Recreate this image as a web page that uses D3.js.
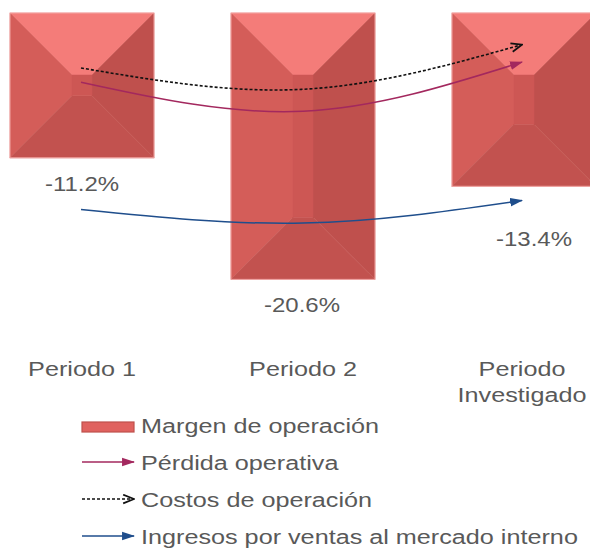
<!DOCTYPE html>
<html>
<head>
<meta charset="utf-8">
<script src="https://cdn.jsdelivr.net/npm/d3@7"></script>
<style>
  body { margin: 0; background: #fff; }
  text { font-family: "Liberation Sans", Arial, sans-serif; fill: #595959; }
</style>
</head>
<body>
<div id="chart"></div>
<script>
width = 590
height = 550

// data
let categories = ["Periodo 1", "Periodo 2", "Periodo Investigado"]
let categoryLines = [["Periodo 1"], ["Periodo 2"], ["Periodo", "Investigado"]]
let margen = [-11.2, -20.6, -13.4]
let labels = ["-11.2%", "-20.6%", "-13.4%"]
// trend arrows, drawn on the same value scale
let costosArrow = [-4.25, -5.9, -2.45]
let perdidaArrow = [-5.35, -7.6, -3.8]
let ingresosArrow = [-15.2, -16.25, -14.5]
let legendNames = ["Margen de operación", "Pérdida operativa", "Costos de operación", "Ingresos por ventas al mercado interno"]

let stretch = 1.2   // the original text is a bit wide
let barWidth = 144
let bevel = 62

let svg = d3.select("#chart")
    .append("svg")
    .attr("width", width)
    .attr("height", height)

let x = d3.scalePoint()
    .domain(categories)
    .range([82, 524])

let y = d3.scaleLinear()
    .domain([0, -22])
    .range([13, 13 + 22 * 12.93])

let defs = svg.append("defs")

function marker(id, color, open) {
    let m = defs.append("marker")
        .attr("id", id)
        .attr("viewBox", "0 0 12 10")
        .attr("refX", 11)
        .attr("refY", 5)
        .attr("markerUnits", "userSpaceOnUse")
        .attr("markerWidth", 13)
        .attr("markerHeight", 11)
        .attr("orient", "auto")
    if (open) {
        m.append("path")
            .attr("d", "M1,1 L11,5 L1,9")
            .attr("fill", "none")
            .attr("stroke", color)
            .attr("stroke-width", 1.6)
    } else {
        m.append("path")
            .attr("d", "M0,1 L12,5 L0,9 Z")
            .attr("fill", color)
    }
}
marker("arrowBlack", "#111", true)
marker("arrowRed", "#A3285E", false)
marker("arrowBlue", "#1F4E8C", false)

// bevelled bars
let bars = svg.append("g")

margen.forEach((v, i) => {
    let cx = x(categories[i])
    let x0 = cx - barWidth / 2, x1 = cx + barWidth / 2
    let y0 = y(0), y1 = y(v)
    let ix0 = x0 + bevel, ix1 = x1 - bevel
    let iy0 = y0 + bevel, iy1 = y1 - bevel
    let g = bars.append("g")
    let faces = [
        { pts: [[x0, y0], [x1, y0], [ix1, iy0], [ix0, iy0]], fill: "#F47C79" },
        { pts: [[x0, y0], [ix0, iy0], [ix0, iy1], [x0, y1]], fill: "#D45D59" },
        { pts: [[x1, y0], [x1, y1], [ix1, iy1], [ix1, iy0]], fill: "#BF504D" },
        { pts: [[x0, y1], [ix0, iy1], [ix1, iy1], [x1, y1]], fill: "#C2524F" },
        { pts: [[ix0, iy0], [ix1, iy0], [ix1, iy1], [ix0, iy1]], fill: "#CD5754" }
    ]
    g.selectAll("polygon")
        .data(faces)
        .join("polygon")
        .attr("points", d => d.pts.map(p => p.join(",")).join(" "))
        .attr("fill", d => d.fill)
        .attr("stroke", d => d.fill)
        .attr("stroke-width", 0.5)
    g.append("rect")
        .attr("x", x0)
        .attr("y", y0)
        .attr("width", barWidth)
        .attr("height", y1 - y0)
        .attr("fill", "none")
        .attr("stroke", "#F2A5A3")
        .attr("stroke-width", 1)
})

// trend arrows
let line = d3.line()
    .x((d, i) => x(categories[i]) + (i == 0 ? -1 : i == 2 ? -2 : 0))
    .y(d => y(d))
    .curve(d3.curveNatural)

let arrows = svg.append("g").attr("fill", "none")

arrows.append("path")
    .attr("d", line(costosArrow))
    .attr("stroke", "#111")
    .attr("stroke-width", 1.6)
    .attr("stroke-dasharray", "3,2")
    .attr("marker-end", "url(#arrowBlack)")

arrows.append("path")
    .attr("d", line(perdidaArrow))
    .attr("stroke", "#A3285E")
    .attr("stroke-width", 1.5)
    .attr("marker-end", "url(#arrowRed)")

arrows.append("path")
    .attr("d", line(ingresosArrow))
    .attr("stroke", "#1F4E8C")
    .attr("stroke-width", 1.5)
    .attr("marker-end", "url(#arrowBlue)")

// value labels
let labelShift = [[0, 33], [-1, 33], [10, 60]]

svg.append("g")
    .selectAll("text")
    .data(margen)
    .join("text")
    .attr("transform", (d, i) => "translate(" + (x(categories[i]) + labelShift[i][0]) + "," + (y(d) + labelShift[i][1]) + ") scale(" + stretch + ",1)")
    .attr("text-anchor", "middle")
    .style("font-size", "20px")
    .text((d, i) => labels[i])

// category labels
let catG = svg.append("g")
categoryLines.forEach((lines, i) => {
    lines.forEach((t, j) => {
        catG.append("text")
            .attr("transform", "translate(" + (x(categories[i]) - (i == 2 ? 2 : 0)) + "," + (376 + j * 26) + ") scale(" + stretch + ",1)")
            .attr("text-anchor", "middle")
            .style("font-size", "21px")
            .text(t)
    })
})

// legend
let legend = svg.append("g")
    .attr("transform", "translate(82,433)")

legendNames.forEach((name, i) => {
    let row = legend.append("g")
        .attr("transform", "translate(0," + (i * 37) + ")")
    if (i == 0) {
        row.append("rect")
            .attr("x", 0)
            .attr("y", -11)
            .attr("width", 52)
            .attr("height", 10)
            .attr("fill", "#E0625F")
            .attr("stroke", "#BE504C")
            .attr("stroke-width", 1.2)
    } else {
        let stroke = ["", "#A3285E", "#111", "#1F4E8C"][i]
        row.append("line")
            .attr("x1", 0)
            .attr("x2", 52)
            .attr("y1", -8)
            .attr("y2", -8)
            .attr("stroke", stroke)
            .attr("stroke-width", 1.5)
            .attr("stroke-dasharray", i == 2 ? "3,2" : null)
            .attr("marker-end", "url(#" + ["", "arrowRed", "arrowBlack", "arrowBlue"][i] + ")")
    }
    row.append("text")
        .attr("transform", "translate(59,0) scale(" + stretch + ",1)")
        .style("font-size", "21px")
        .text(name)
})
</script>
</body>
</html>
